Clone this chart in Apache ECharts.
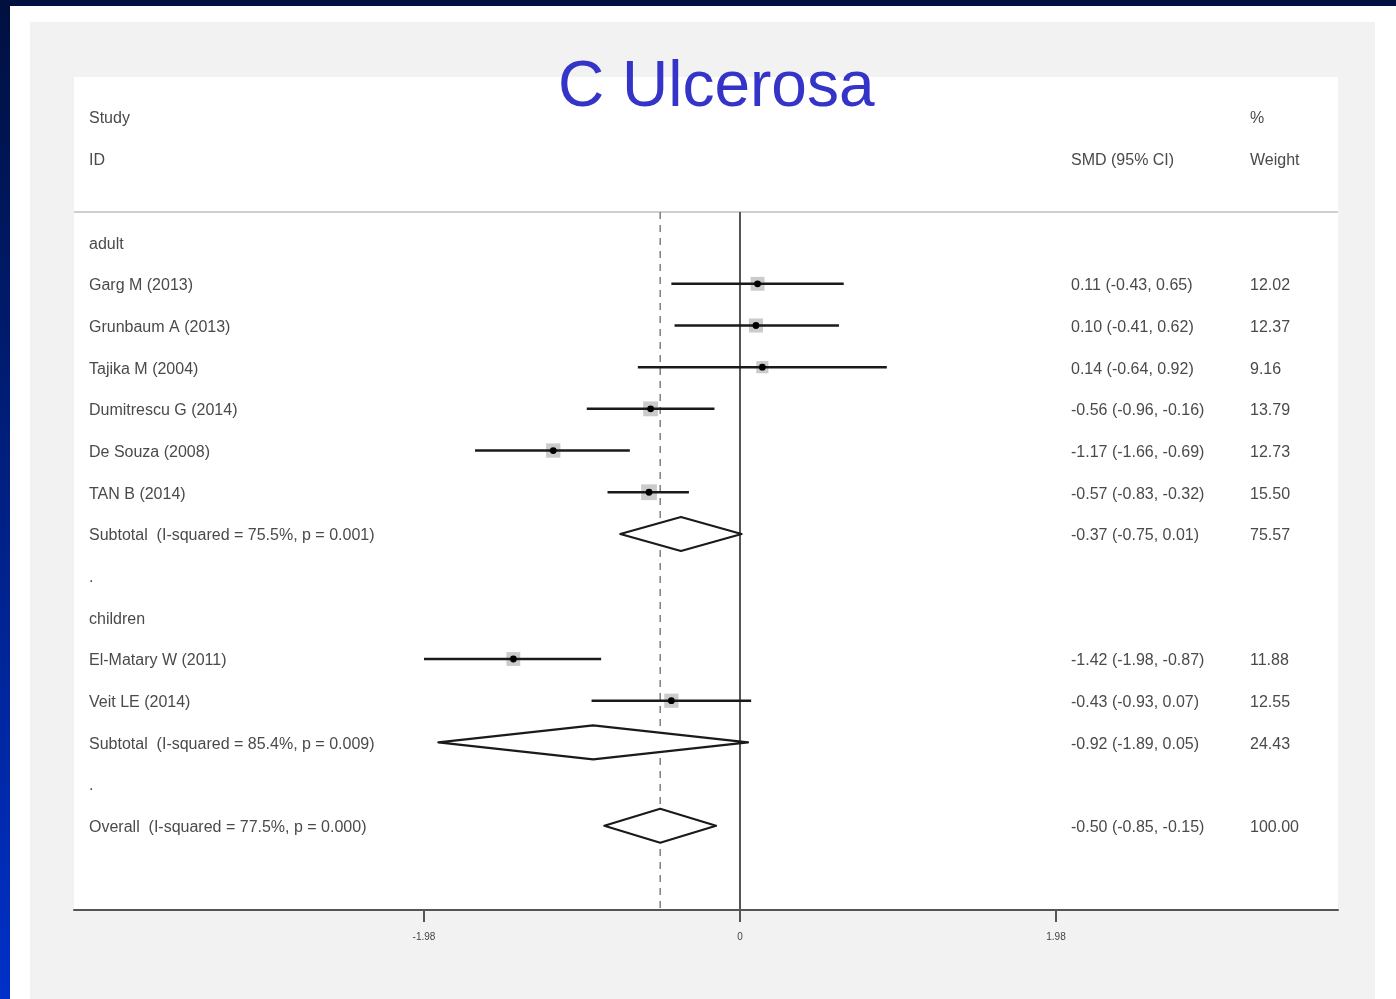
<!DOCTYPE html>
<html><head><meta charset="utf-8">
<script src="https://cdn.jsdelivr.net/npm/echarts@6/dist/echarts.min.js"></script>
<style>
html,body{margin:0;padding:0;background:#fff;overflow:hidden;}
.bg{position:absolute;}
#c{position:absolute;left:0;top:0;width:1396px;height:999px;}
</style>
</head><body>
<div class="bg" style="left:0;top:0;width:1396px;height:6px;background:#00103f;"></div>
<div class="bg" style="left:0;top:0;width:10px;height:999px;background:linear-gradient(to bottom,#00103f,#0030c8);"></div>
<div class="bg" style="left:30px;top:22px;width:1345px;height:977px;background:#f2f2f2;"></div>
<div class="bg" style="left:74px;top:77px;width:1264px;height:833px;background:#fff;"></div>
<div id="c"></div>
<script>
// ---- data ----
const studyNames = ['Garg M (2013)', 'Grunbaum A (2013)', 'Tajika M (2004)', 'Dumitrescu G (2014)', 'De Souza (2008)', 'TAN B (2014)', 'El-Matary W (2011)', 'Veit LE (2014)'];
const studySMD   = [0.11, 0.10, 0.14, -0.56, -1.17, -0.57, -1.42, -0.43];
const studyLower = [-0.43, -0.41, -0.64, -0.96, -1.66, -0.83, -1.98, -0.93];
const studyUpper = [0.65, 0.62, 0.92, -0.16, -0.69, -0.32, -0.87, 0.07];
const studyWeight = [12.02, 12.37, 9.16, 13.79, 12.73, 15.50, 11.88, 12.55];
const studyRows  = [4, 5, 6, 7, 8, 9, 13, 14];

const pooledNames = ['Subtotal  (I-squared = 75.5%, p = 0.001)', 'Subtotal  (I-squared = 85.4%, p = 0.009)', 'Overall  (I-squared = 77.5%, p = 0.000)'];
const pooledSMD   = [-0.37, -0.92, -0.50];
const pooledLower = [-0.75, -1.89, -0.85];
const pooledUpper = [0.01, 0.05, -0.15];
const pooledWeight = [75.57, 24.43, 100.00];
const pooledRows  = [10, 15, 17];

const groupNames = ['adult', '.', 'children', '.'];
const groupRows  = [3, 11, 12, 16];

const tickValues = [-1.98, 0, 1.98];
const tickLabels = ['-1.98', '0', '1.98'];
const overallRef = -0.50;
const titleText = 'C Ulcerosa';

// ---- layout constants ----
const X_MIN = -4.1729, X_MAX = 3.7469;
const Y_MIN = -0.96, Y_MAX = 19.02;
const HEADER_ROW = 2.28;
const COL_STUDY = 89, COL_CI = 1071, COL_W = 1250;
const TEXT_DY = 2;
const BOX_K = 4.0, DIAMOND_H = 17;
const FONT = '"Liberation Sans", Arial, Helvetica, sans-serif';
const TXT = '#4a4a4a';

const f2 = v => v.toFixed(2);
const ciText = (e, l, h) => f2(e) + ' (' + f2(l) + ', ' + f2(h) + ')';

// text items built from arrays
const textItems = [];
textItems.push([COL_STUDY, 0, 'Study'], [COL_STUDY, 1, 'ID'], [COL_CI, 1, 'SMD (95% CI)'], [COL_W, 0, '%'], [COL_W, 1, 'Weight']);
groupNames.forEach((n, i) => textItems.push([COL_STUDY, groupRows[i], n]));
studyNames.forEach((n, i) => {
  textItems.push([COL_STUDY, studyRows[i], n]);
  textItems.push([COL_CI, studyRows[i], ciText(studySMD[i], studyLower[i], studyUpper[i])]);
  textItems.push([COL_W, studyRows[i], f2(studyWeight[i])]);
});
pooledNames.forEach((n, i) => {
  textItems.push([COL_STUDY, pooledRows[i], n]);
  textItems.push([COL_CI, pooledRows[i], ciText(pooledSMD[i], pooledLower[i], pooledUpper[i])]);
  textItems.push([COL_W, pooledRows[i], f2(pooledWeight[i])]);
});

const chart = echarts.init(document.getElementById('c'), null, {renderer: 'canvas'});

chart.setOption({
  animation: false,
  backgroundColor: 'transparent',
  title: {
    text: titleText, left: 553, top: 51, padding: 5,
    textStyle: {color: '#3434c8', fontSize: 64, fontWeight: 'normal', fontFamily: FONT}
  },
  grid: {left: 74, right: 58, top: 77, bottom: 89, containLabel: false},
  xAxis: {
    type: 'value', min: X_MIN, max: X_MAX,
    splitLine: {show: false},
    axisLine: {show: true, onZero: false, lineStyle: {color: '#555', width: 2}},
    axisTick: {show: true, customValues: tickValues, length: 12, lineStyle: {color: '#555', width: 2}},
    axisLabel: {show: true, customValues: tickValues, margin: 22, fontSize: 10, color: '#444', fontFamily: FONT,
      formatter: v => { const i = tickValues.indexOf(v); return i >= 0 ? tickLabels[i] : ''; }}
  },
  yAxis: {
    type: 'value', min: Y_MIN, max: Y_MAX, inverse: true, show: false
  },
  series: [
    { // reference lines
      type: 'custom', silent: true, z: 1,
      data: [[0, HEADER_ROW]],
      renderItem: (params, api) => {
        const a = api.coord([X_MIN, HEADER_ROW]), b = api.coord([X_MAX, HEADER_ROW]);
        const z0 = api.coord([0, HEADER_ROW]), z1 = api.coord([0, Y_MAX]);
        const d0 = api.coord([overallRef, HEADER_ROW]), d1 = api.coord([overallRef, Y_MAX]);
        return {type: 'group', children: [
          {type: 'line', shape: {x1: a[0], y1: a[1], x2: b[0], y2: b[1]}, style: {stroke: '#cfcfcf', lineWidth: 2}},
          {type: 'line', shape: {x1: z0[0], y1: z0[1], x2: z1[0], y2: z1[1]}, style: {stroke: '#555', lineWidth: 2}},
          {type: 'line', shape: {x1: d0[0], y1: d0[1], x2: d1[0], y2: d1[1]}, style: {stroke: '#777', lineWidth: 1.4, lineDash: [7, 6]}}
        ]};
      }
    },
    { // studies
      type: 'custom', silent: true, z: 3,
      data: studySMD.map((v, i) => [v, studyRows[i], studyLower[i], studyUpper[i], studyWeight[i]]),
      encode: {x: [0, 2, 3], y: 1},
      renderItem: (params, api) => {
        const est = api.value(0), row = api.value(1), lo = api.value(2), hi = api.value(3), w = api.value(4);
        const pL = api.coord([lo, row]), pH = api.coord([hi, row]), pE = api.coord([est, row]);
        const s = BOX_K * Math.sqrt(w);
        return {type: 'group', children: [
          {type: 'rect', shape: {x: pE[0] - s / 2, y: pE[1] - s / 2, width: s, height: s}, style: {fill: '#cbcbcb'}},
          {type: 'line', shape: {x1: pL[0], y1: pL[1], x2: pH[0], y2: pH[1]}, style: {stroke: '#1a1a1a', lineWidth: 2.5}},
          {type: 'circle', shape: {cx: pE[0], cy: pE[1], r: 3.4}, style: {fill: '#000'}}
        ]};
      }
    },
    { // pooled diamonds
      type: 'custom', silent: true, z: 3,
      data: pooledSMD.map((v, i) => [v, pooledRows[i], pooledLower[i], pooledUpper[i]]),
      encode: {x: [0, 2, 3], y: 1},
      renderItem: (params, api) => {
        const est = api.value(0), row = api.value(1), lo = api.value(2), hi = api.value(3);
        const pL = api.coord([lo, row]), pH = api.coord([hi, row]), pE = api.coord([est, row]);
        return {type: 'polygon', shape: {points: [[pL[0], pL[1]], [pE[0], pE[1] - DIAMOND_H], [pH[0], pH[1]], [pE[0], pE[1] + DIAMOND_H]]},
          style: {fill: '#fff', stroke: '#1a1a1a', lineWidth: 2.2, lineJoin: 'round'}};
      }
    },
    { // texts
      type: 'custom', silent: true, z: 4,
      data: textItems.map(t => [0, t[1]]),
      renderItem: (params, api) => {
        const t = textItems[params.dataIndex];
        const p = api.coord([0, t[1]]);
        return {type: 'text', x: t[0], y: p[1] + TEXT_DY, style: {text: t[2], fill: TXT, font: '16px ' + FONT, textAlign: 'left', textVerticalAlign: 'middle'}};
      }
    }
  ]
});
</script>
</body></html>
